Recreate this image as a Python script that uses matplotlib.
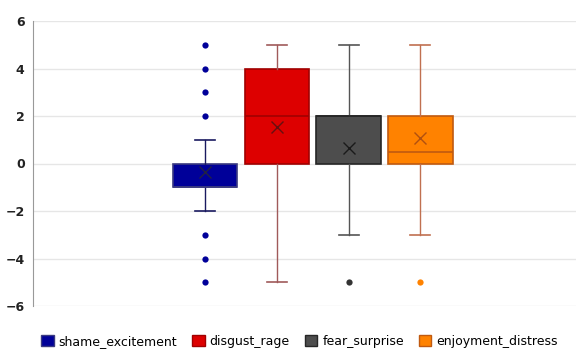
import matplotlib
matplotlib.use("Agg")
import matplotlib.pyplot as plt
from matplotlib.patches import Patch

labels = ["shame_excitement", "disgust_rage", "fear_surprise", "enjoyment_distress"]
q1 = [-1, 0, 0, 0]
q3 = [0, 4, 2, 2]
med = [-1, 2, 2, 0.5]
mean = [-0.36, 1.54, 0.65, 1.07]
whislo = [-2, -5, -3, -3]
whishi = [1, 5, 5, 5]
fliers = [[2, 3, 4, 5, -3, -4, -5], [], [-5], [-5]]

face = ["#000099", "#DD0000", "#4D4D4D", "#FF8200"]
edge = ["#3a3a80", "#a00000", "#262626", "#c05a10"]
whisk = ["#1a1a60", "#a05a5a", "#555555", "#c07050"]
meanc = ["#222244", "#661010", "#1a1a1a", "#b05010"]

fig = plt.figure(figsize=(5.76, 3.49), dpi=100)
ax = fig.add_axes([33/576, 1-306/349, 1-33/576, 285/349])

for i in range(4):
    st = [dict(q1=q1[i], q3=q3[i], med=med[i], mean=mean[i], whislo=whislo[i],
               whishi=whishi[i], fliers=fliers[i], label=labels[i])]
    ax.bxp(st, positions=[i], widths=0.9, capwidths=0.28, showmeans=True, patch_artist=True,
           boxprops=dict(facecolor=face[i], edgecolor=edge[i], linewidth=1.2),
           medianprops=dict(color=edge[i], linewidth=1.2),
           whiskerprops=dict(color=whisk[i], linewidth=1),
           capprops=dict(color=whisk[i], linewidth=1.2),
           meanprops=dict(marker="x", markeredgecolor=meanc[i], markersize=8, markeredgewidth=1),
           flierprops=dict(marker="o", markerfacecolor=face[i] if i != 2 else "#333333",
                           markeredgecolor="none", markersize=4.5))

ax.set_xlim(-2.40, 5.17)
ax.set_ylim(-6, 6)
ax.set_yticks([-6, -4, -2, 0, 2, 4, 6])
ax.set_xticks([])
ax.grid(axis="y", color="#e6e6e6", linewidth=1)
ax.set_axisbelow(True)
for s in ["top", "right", "bottom"]:
    ax.spines[s].set_visible(False)
ax.spines["left"].set_color("#999999")
ax.tick_params(axis="y", length=0, pad=6, labelsize=9)
for t in ax.get_yticklabels():
    t.set_fontweight("bold")
    t.set_color("#222222")

handles = [Patch(facecolor=face[i], edgecolor=edge[i], label=labels[i]) for i in range(4)]
fig.legend(handles=handles, loc="upper center", bbox_to_anchor=(0.52, 0.058), ncol=4,
           frameon=False, fontsize=9, handlelength=1.0, handleheight=1.0,
           handletextpad=0.4, columnspacing=1.2, borderpad=0)

fig.savefig("out.png", dpi=100)
